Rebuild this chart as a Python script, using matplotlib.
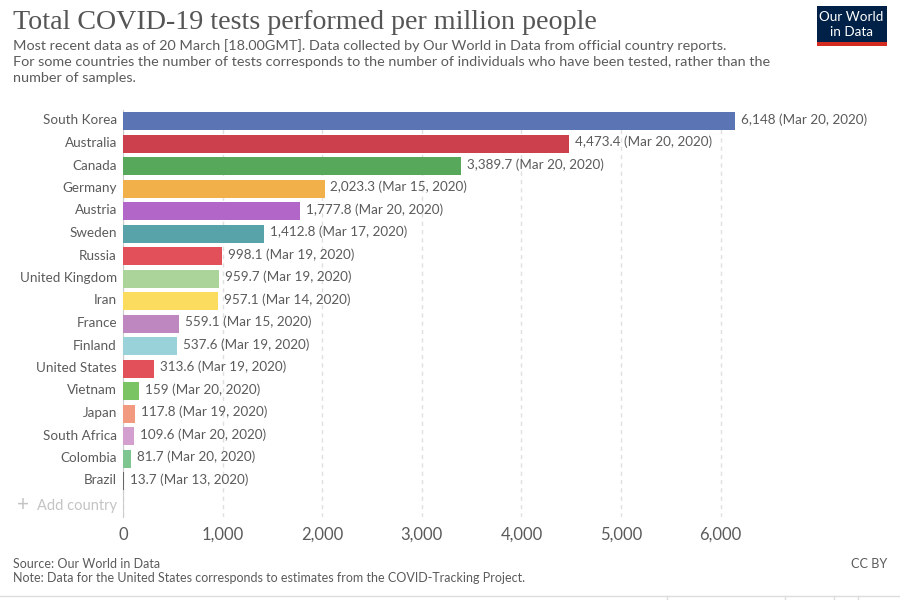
import matplotlib
matplotlib.use('Agg')
import matplotlib.pyplot as plt
from matplotlib.patches import Rectangle
from matplotlib.transforms import ScaledTranslation

countries = ['South Korea', 'Australia', 'Canada', 'Germany', 'Austria', 'Sweden', 'Russia',
             'United Kingdom', 'Iran', 'France', 'Finland', 'United States', 'Vietnam', 'Japan',
             'South Africa', 'Colombia', 'Brazil']
tests = [6148, 4473.4, 3389.7, 2023.3, 1777.8, 1412.8, 998.1, 959.7, 957.1, 559.1, 537.6,
         313.6, 159, 117.8, 109.6, 81.7, 13.7]
value_labels = ['6,148', '4,473.4', '3,389.7', '2,023.3', '1,777.8', '1,412.8', '998.1', '959.7',
                '957.1', '559.1', '537.6', '313.6', '159', '117.8', '109.6', '81.7', '13.7']
dates = ['Mar 20, 2020', 'Mar 20, 2020', 'Mar 20, 2020', 'Mar 15, 2020', 'Mar 20, 2020',
         'Mar 17, 2020', 'Mar 19, 2020', 'Mar 19, 2020', 'Mar 14, 2020', 'Mar 15, 2020',
         'Mar 19, 2020', 'Mar 19, 2020', 'Mar 20, 2020', 'Mar 19, 2020', 'Mar 20, 2020',
         'Mar 20, 2020', 'Mar 13, 2020']
colors = ['#5b74b3', '#cc404e', '#58a85c', '#f2b04a', '#b266c7', '#57a3a9', '#e2505a', '#abd49a',
          '#fcdc5e', '#bf87bf', '#99d3d9', '#e2505a', '#7bc463', '#f29a80', '#d29fce', '#7dc68f',
          '#666666']
xticks = [0, 1000, 2000, 3000, 4000, 5000, 6000]
xtick_labels = ['0', '1,000', '2,000', '3,000', '4,000', '5,000', '6,000']

W, H = 900, 600
plt.rcParams['font.family'] = ['Lato', 'DejaVu Sans']

fig = plt.figure(figsize=(W / 100, H / 100), dpi=100)


def fx(px):
    return px / W


def fy(py):
    return 1 - py / H


# axes placed by pixels, 99.6 px per 1000 tests, 22.5 px per row
ax = fig.add_axes([fx(123), fy(517), fx(880 - 123), (517 - 110) / H])
ax.set_xlim(0, 757 / 0.0996)
ax.set_ylim((517 - 121) / 22.5, -11 / 22.5)

ax.barh(range(len(tests)), tests, height=0.8, color=colors, zorder=3)
ax.grid(axis='x', color='#e0e0e0', linestyle=(0, (3, 3)), linewidth=1, zorder=1)
ax.set_axisbelow(True)
for side in ['top', 'right', 'bottom']:
    ax.spines[side].set_visible(False)
ax.spines['left'].set_color('#cccccc')
ax.spines['left'].set_zorder(2)

ax.set_xticks(xticks)
ax.set_xticklabels(xtick_labels, fontsize=12, color='#5b5b5b')
ax.set_yticks(range(len(countries)))
ax.set_yticklabels(countries, fontsize=9.75, color='#5b5b5b')
ax.tick_params(axis='x', length=0, pad=7)
ax.tick_params(axis='y', length=0, pad=4.4)

# country names sit a little above the bar centres in the original
nudge = ScaledTranslation(0, 1.5 / 100, fig.dpi_scale_trans)
for lab in ax.get_yticklabels():
    lab.set_transform(lab.get_transform() + nudge)

for i, (v, lab, d) in enumerate(zip(tests, value_labels, dates)):
    ax.annotate(f'{lab} ({d})', (v, i), xytext=(4.3, 1.1), textcoords='offset points', va='center',
                ha='left', fontsize=9.75, color='#5b5b5b', zorder=5)

ax.text(-0.008, 17.1, 'Add country', transform=ax.get_yaxis_transform(), ha='right',
        va='center', fontsize=10.5, color='#c4c4c4')
ax.text(-0.132, 17.05, '+', transform=ax.get_yaxis_transform(), ha='center', va='center',
        fontsize=15, color='#c4c4c4')

# header
fig.text(fx(13), fy(22.5), 'Total COVID-19 tests performed per million people',
         family=['Liberation Serif', 'DejaVu Serif'], fontsize=20.15, color='#555555',
         va='center', ha='left')
subtitle = ['Most recent data as of 20 March [18.00GMT]. Data collected by Our World in Data from official country reports.',
            'For some countries the number of tests corresponds to the number of individuals who have been tested, rather than the',
            'number of samples.']
for py, line in zip([45.5, 61.5, 77.5], subtitle):
    fig.text(fx(13), fy(py), line, fontsize=10.36, color='#5b5b5b', va='center', ha='left')

# logo
fig.add_artist(Rectangle((fx(816.5), fy(46)), 70 / W, 40.5 / H, transform=fig.transFigure,
                         color='#002147', lw=0))
fig.add_artist(Rectangle((fx(816.5), fy(46)), 70 / W, 4.5 / H, transform=fig.transFigure,
                         color='#d42b21', lw=0))
fig.text(fx(851.5), fy(17), 'Our World', fontsize=9.75, color='white', ha='center', va='center')
fig.text(fx(851.5), fy(32), 'in Data', fontsize=9.75, color='white', ha='center', va='center')

# footer
fig.text(fx(13), fy(563.5), 'Source: Our World in Data', fontsize=9, color='#5b5b5b', va='center')
fig.text(fx(13), fy(577.5), 'Note: Data for the United States corresponds to estimates from the COVID-Tracking Project.',
         fontsize=9, color='#5b5b5b', va='center')
fig.text(fx(887), fy(563.5), 'CC BY', fontsize=9.1, color='#5b5b5b', va='center', ha='right')

# tab strip border at the bottom edge
fig.add_artist(plt.Line2D([0, 1], [fy(595.5), fy(595.5)], color='#dddddd', lw=1))
for px in [667, 785, 834, 858]:
    fig.add_artist(plt.Line2D([fx(px), fx(px)], [fy(595.5), 0], color='#dddddd', lw=1))

fig.savefig('out.png', dpi=100)
